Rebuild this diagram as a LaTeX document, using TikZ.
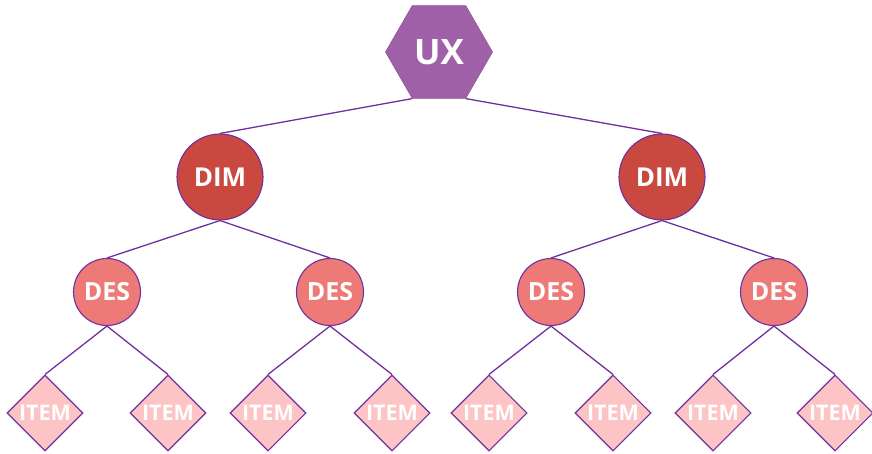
\documentclass[tikz,border=0pt]{standalone}
\usepackage{fontspec}
\setmainfont{Open Sans}
\usetikzlibrary{shapes.geometric}
\definecolor{edgepurple}{RGB}{112,48,160}
\definecolor{uxfill}{RGB}{160,96,168}
\definecolor{dimfill}{RGB}{201,72,64}
\definecolor{desfill}{RGB}{238,122,120}
\definecolor{itemfill}{RGB}{252,196,196}
\tikzset{
  uxnode/.style={regular polygon, regular polygon sides=6, fill=uxfill, draw=uxfill!90!black, line width=0.6pt,
    minimum size=107pt, inner sep=0pt, text=white, font=\fontsize{35}{40}\selectfont\bfseries},
  dimnode/.style={circle, fill=dimfill, draw=edgepurple, line width=1.1pt, minimum size=86pt, inner sep=0pt,
    text=white, font=\fontsize{26}{30}\selectfont\bfseries},
  desnode/.style={circle, fill=desfill, draw=edgepurple, line width=1.1pt, minimum size=67pt, inner sep=0pt,
    text=white, font=\fontsize{25}{29}\selectfont\bfseries},
  itemnode/.style={diamond, aspect=1, fill=itemfill, draw=edgepurple, line width=1.1pt, minimum width=76pt,
    minimum height=76pt, inner sep=0pt, text=white, font=\fontsize{21.5}{25}\selectfont\bfseries},
  link/.style={draw=edgepurple, line width=1.3pt}
}
\begin{document}
\begin{tikzpicture}[x=1pt,y=-1pt]
\useasboundingbox (0,0) rectangle (872,454);
\node[uxnode] (ux) at (439,52) {UX};
\node[dimnode] (dim1) at (220,177) {DIM};
\node[dimnode] (dim2) at (662,177) {DIM};
\node[desnode] (des1) at (107,292) {DES};
\node[desnode] (des2) at (330,292) {DES};
\node[desnode] (des3) at (551,292) {DES};
\node[desnode] (des4) at (774,292) {DES};
\node[itemnode] (it1) at (45,413) {ITEM};
\node[itemnode] (it2) at (168,413) {ITEM};
\node[itemnode] (it3) at (268,413) {ITEM};
\node[itemnode] (it4) at (392,413) {ITEM};
\node[itemnode] (it5) at (489,413) {ITEM};
\node[itemnode] (it6) at (613,413) {ITEM};
\node[itemnode] (it7) at (713,413) {ITEM};
\node[itemnode] (it8) at (835,413) {ITEM};
\draw[link] (ux.corner 4) -- (dim1.north);
\draw[link] (ux.corner 5) -- (dim2.north);
\draw[link] (dim1.south) -- (des1.north);
\draw[link] (dim1.south) -- (des2.north);
\draw[link] (dim2.south) -- (des3.north);
\draw[link] (dim2.south) -- (des4.north);
\draw[link] (des1.south) -- (it1.north);
\draw[link] (des1.south) -- (it2.north);
\draw[link] (des2.south) -- (it3.north);
\draw[link] (des2.south) -- (it4.north);
\draw[link] (des3.south) -- (it5.north);
\draw[link] (des3.south) -- (it6.north);
\draw[link] (des4.south) -- (it7.north);
\draw[link] (des4.south) -- (it8.north);
\end{tikzpicture}
\end{document}
